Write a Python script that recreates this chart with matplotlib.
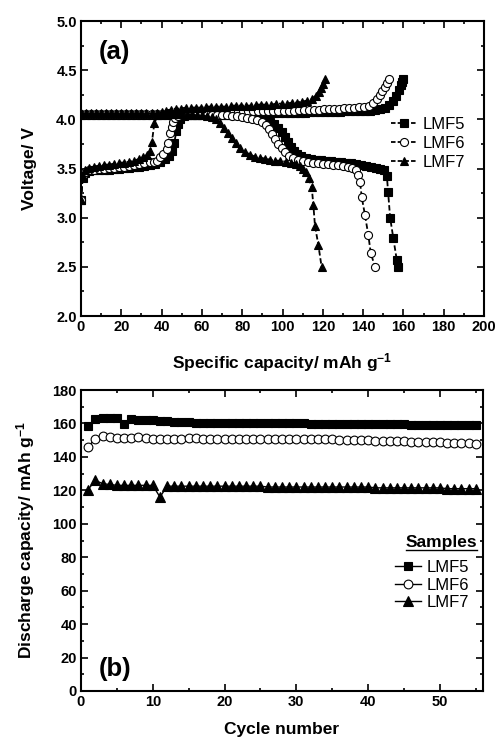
import matplotlib
matplotlib.use('Agg')
import matplotlib.pyplot as plt
from matplotlib.lines import Line2D
from matplotlib.ticker import MultipleLocator
from matplotlib import font_manager

# ---- (a) charge / discharge profiles ----
lmf5_chg_cap = [0, 0.8, 2, 4, 6.5, 9, 11.5, 14, 16.5, 19, 21.5, 24, 26.5, 29, 31.5, 34, 36.5, 39, 41.5, 43.5,
                45, 46.3, 47.3, 48, 49, 51, 53.5, 56, 58.5, 61, 63.5, 66, 68.5, 71, 73.5, 76, 78.5, 81, 83.5,
                86, 88.5, 91, 93.5, 96, 98.5, 101, 103.5, 106, 108.5, 111, 113.5, 116, 118.5, 121, 123.5, 126,
                128.5, 131, 133.5, 136, 138.5, 141, 143.5, 146, 148.5, 151, 153, 155, 156.5, 157.8, 158.8,
                159.5, 160]
lmf5_chg_v = [3.18, 3.40, 3.45, 3.47, 3.48, 3.48, 3.49, 3.49, 3.50, 3.50, 3.51, 3.51, 3.52, 3.52, 3.53, 3.54,
              3.55, 3.57, 3.60, 3.63, 3.68, 3.76, 3.88, 3.95, 4.00, 4.03, 4.04, 4.04, 4.05, 4.05, 4.05, 4.05,
              4.05, 4.05, 4.05, 4.05, 4.05, 4.06, 4.06, 4.06, 4.06, 4.06, 4.06, 4.06, 4.06, 4.06, 4.06, 4.06,
              4.06, 4.06, 4.07, 4.07, 4.07, 4.07, 4.07, 4.07, 4.07, 4.08, 4.08, 4.08, 4.08, 4.09, 4.09, 4.10,
              4.11, 4.12, 4.15, 4.19, 4.24, 4.30, 4.35, 4.38, 4.41]

lmf6_chg_cap = [0, 0.8, 2, 4, 6.5, 9, 11.5, 14, 16.5, 19, 21.5, 24, 26.5, 29, 31.5, 34, 36, 37.5, 39.2, 40.9,
                42.5, 43.3, 44.2, 45, 45.8, 46.8, 48, 50.5, 53, 55.5, 58, 60.5, 63, 65.5, 68, 70.5, 73, 75.5,
                78, 80.5, 83, 85.5, 88, 90.5, 93, 95.5, 98, 100.5, 103, 105.5, 108, 110.5, 113, 115.5, 118,
                120.5, 123, 125.5, 128, 130.5, 133, 135.5, 138, 140.5, 143, 145, 146.7, 148.2, 149.6, 150.9,
                152, 153]
lmf6_chg_v = [3.18, 3.41, 3.46, 3.48, 3.49, 3.50, 3.50, 3.51, 3.51, 3.52, 3.52, 3.53, 3.54, 3.55, 3.56, 3.57,
              3.57, 3.58, 3.62, 3.65, 3.70, 3.76, 3.86, 3.92, 3.97, 4.01, 4.03, 4.05, 4.06, 4.06, 4.06, 4.07,
              4.07, 4.07, 4.07, 4.07, 4.08, 4.08, 4.08, 4.08, 4.08, 4.08, 4.08, 4.09, 4.09, 4.09, 4.09, 4.09,
              4.09, 4.09, 4.10, 4.10, 4.10, 4.10, 4.10, 4.11, 4.11, 4.11, 4.11, 4.12, 4.12, 4.12, 4.13, 4.13,
              4.14, 4.17, 4.21, 4.25, 4.29, 4.33, 4.37, 4.41]

lmf7_chg_cap = [0, 0.8, 2, 4, 6.5, 9, 11.5, 14, 16.5, 19, 21.5, 24, 26.5, 29, 31, 33, 34.3, 35.2, 36.4, 38, 40,
                42, 44.5, 47, 49.5, 52, 54.5, 57, 59.5, 62, 64.5, 67, 69.5, 72, 74.5, 77, 79.5, 82, 84.5, 87,
                89.5, 92, 94.5, 97, 99.5, 102, 104.5, 107, 109.5, 112, 114.5, 116.5, 118, 119.2, 120.2, 121]
lmf7_chg_v = [3.18, 3.42, 3.48, 3.51, 3.52, 3.53, 3.54, 3.54, 3.55, 3.56, 3.56, 3.57, 3.58, 3.60, 3.62, 3.64,
              3.68, 3.77, 3.96, 4.04, 4.07, 4.09, 4.10, 4.11, 4.11, 4.12, 4.12, 4.12, 4.12, 4.13, 4.13, 4.13,
              4.13, 4.13, 4.14, 4.14, 4.14, 4.14, 4.14, 4.15, 4.15, 4.15, 4.15, 4.16, 4.16, 4.16, 4.17, 4.17,
              4.18, 4.19, 4.21, 4.24, 4.28, 4.32, 4.36, 4.41]

lmf5_dis_cap = [0, 2.5, 5, 7.5, 10, 12.5, 15, 17.5, 20, 22.5, 25, 27.5, 30, 32.5, 35, 37.5, 40, 42.5, 45, 47.5,
                50, 52.5, 55, 57.5, 60, 62.5, 65, 67.5, 70, 72.5, 75, 77.5, 80, 82.5, 85, 87.5, 90, 92, 94, 96,
                98, 99.5, 101, 102.5, 104, 105.5, 107, 109, 111.5, 114, 116.5, 119, 121.5, 124, 126.5, 129,
                131.5, 134, 136.5, 139, 141.5, 144, 146.5, 148.5, 150.5, 151.8, 152.4, 153.4, 155, 156.7, 157.5]
lmf5_dis_v = [4.04, 4.04, 4.04, 4.04, 4.04, 4.04, 4.04, 4.04, 4.04, 4.04, 4.04, 4.04, 4.04, 4.04, 4.04, 4.04,
              4.04, 4.04, 4.04, 4.04, 4.04, 4.04, 4.04, 4.04, 4.04, 4.04, 4.04, 4.04, 4.04, 4.04, 4.04, 4.04,
              4.04, 4.04, 4.03, 4.02, 4.01, 3.99, 3.97, 3.95, 3.91, 3.87, 3.82, 3.77, 3.72, 3.68, 3.65, 3.63,
              3.61, 3.60, 3.59, 3.59, 3.58, 3.58, 3.57, 3.57, 3.56, 3.56, 3.55, 3.54, 3.53, 3.52, 3.51, 3.50,
              3.48, 3.42, 3.26, 3.00, 2.79, 2.57, 2.50]

lmf6_dis_cap = [0, 2.5, 5, 7.5, 10, 12.5, 15, 17.5, 20, 22.5, 25, 27.5, 30, 32.5, 35, 37.5, 40, 42.5, 45, 47.5,
                50, 52.5, 55, 57.5, 60, 62.5, 65, 67.5, 70, 72.5, 75, 77.5, 80, 82.5, 85, 87.5, 90, 92, 93.5,
                95, 96.5, 98, 99.5, 101, 103, 105, 107.5, 110, 112.5, 115, 117.5, 120, 122.5, 125, 127.5, 130,
                132.5, 134.5, 136.5, 137.5, 138.5, 139.3, 140.9, 142.6, 143.8, 145.9]
lmf6_dis_v = [4.05, 4.05, 4.05, 4.05, 4.05, 4.05, 4.05, 4.05, 4.05, 4.05, 4.05, 4.05, 4.05, 4.05, 4.05, 4.05,
              4.05, 4.05, 4.05, 4.05, 4.05, 4.05, 4.05, 4.05, 4.05, 4.04, 4.04, 4.04, 4.04, 4.04, 4.03, 4.03,
              4.02, 4.01, 4.00, 3.99, 3.97, 3.94, 3.90, 3.85, 3.80, 3.75, 3.71, 3.67, 3.63, 3.61, 3.59, 3.58,
              3.57, 3.56, 3.56, 3.55, 3.55, 3.54, 3.54, 3.53, 3.52, 3.51, 3.48, 3.43, 3.36, 3.21, 3.03, 2.82,
              2.64, 2.50]

lmf7_dis_cap = [0, 2.5, 5, 7.5, 10, 12.5, 15, 17.5, 20, 22.5, 25, 27.5, 30, 32.5, 35, 37.5, 40, 42.5, 45, 47.5,
                50, 52.5, 55, 57.5, 60, 62.5, 65, 67, 69, 71, 73, 75, 77, 79, 81.5, 84, 86.5, 89, 91.5, 94,
                96.5, 99, 101.5, 104, 106.5, 108.5, 110, 111.5, 113, 114.5, 115.3, 116.1, 117.8, 119.4]
lmf7_dis_v = [4.06, 4.06, 4.06, 4.06, 4.06, 4.06, 4.06, 4.06, 4.06, 4.06, 4.06, 4.06, 4.06, 4.06, 4.06, 4.06,
              4.05, 4.05, 4.05, 4.05, 4.05, 4.05, 4.05, 4.04, 4.04, 4.03, 4.02, 4.00, 3.96, 3.91, 3.86, 3.81,
              3.76, 3.71, 3.67, 3.64, 3.62, 3.61, 3.60, 3.59, 3.58, 3.58, 3.57, 3.56, 3.55, 3.53, 3.50, 3.46,
              3.40, 3.31, 3.13, 2.92, 2.72, 2.50]

# ---- (b) cycling ----
cycles = list(range(1, 56))
lmf5_cyc = [158.5, 162.5, 163.5, 163.5, 163, 159.5, 162.5, 162, 162, 162, 161.5, 161.5, 161, 161, 161, 160.5,
            160.5, 160.5, 160.5, 160, 160, 160, 160, 160, 160, 160, 160, 160, 160, 160, 160, 159.5, 159.5,
            159.5, 159.5, 159.5, 159.5, 159.5, 159.5, 159.5, 159.5, 159.5, 159.5, 159.5, 159.5, 159, 159, 159,
            159, 159, 159, 159, 159, 159, 159]
lmf6_cyc = [146, 151, 152.5, 152, 151.5, 151.5, 151.5, 152, 151.5, 151, 151, 151, 151, 151, 151.5, 151.5, 151,
            151, 151, 151, 151, 151, 150.5, 150.5, 150.5, 150.5, 150.5, 150.5, 150.5, 150.5, 150.5, 151, 150.5,
            150.5, 150.5, 150, 150, 150, 150, 150, 149.5, 149.5, 149.5, 149.5, 149.5, 149, 149, 149, 149, 149,
            148.5, 148.5, 148.5, 148.5, 148]
lmf7_cyc = [120.5, 126, 124, 123.5, 123, 123, 123, 123, 123, 123, 116, 122.5, 122.5, 122.5, 122.5, 122.5, 122.5,
            122.5, 122.5, 122.5, 122.5, 122.5, 122.5, 122.5, 122.5, 122, 122, 122, 122, 122, 122, 122, 122, 122,
            122, 122, 122, 122, 122, 122, 121.5, 121.5, 121.5, 121.5, 121.5, 121.5, 121.5, 121.5, 121.5, 121.5,
            121, 121, 121, 121, 121]

labels = ['LMF5', 'LMF6', 'LMF7']
markers = ['s', 'o', '^']
facecols = ['black', 'white', 'black']

# pick a sans family that really has a bold face installed
fam = 'Liberation Sans'
for f in ['Liberation Sans', 'Roboto', 'Open Sans', 'Noto Sans', 'DejaVu Sans']:
    p = font_manager.findfont(font_manager.FontProperties(family=f, weight='bold'), fallback_to_default=False)
    if 'bold' in p.lower():
        fam = f
        break

plt.rcParams['font.family'] = [fam, 'DejaVu Sans']
plt.rcParams['mathtext.fontset'] = 'custom'
plt.rcParams['mathtext.rm'] = fam + ':bold'
plt.rcParams['mathtext.it'] = fam + ':bold'
plt.rcParams['mathtext.bf'] = fam + ':bold'

fig = plt.figure(figsize=(4.99, 7.38), dpi=100)
ax1 = fig.add_axes([0.1623, 0.5718, 0.8077, 0.3997])
ax2 = fig.add_axes([0.1623, 0.0637, 0.8057, 0.4078])

charge = [(lmf5_chg_cap, lmf5_chg_v), (lmf6_chg_cap, lmf6_chg_v), (lmf7_chg_cap, lmf7_chg_v)]
discharge = [(lmf5_dis_cap, lmf5_dis_v), (lmf6_dis_cap, lmf6_dis_v), (lmf7_dis_cap, lmf7_dis_v)]
msz = [5.6, 5.8, 6.4]
for i in range(3):
    for cap, v in (charge[i], discharge[i]):
        ax1.plot(cap, v, ls='--', dashes=(3, 1.5), color='black', lw=1.3, marker=markers[i],
                 ms=msz[i], mfc=facecols[i], mec='black', mew=0.8)

handles = [Line2D([], [], ls='--', dashes=(2.5, 1.2), color='black', lw=1.3, marker=markers[i], ms=msz[i],
                  mfc=facecols[i], mec='black', mew=0.8) for i in range(3)]
ax1.legend(handles, labels, loc='center left', bbox_to_anchor=(0.77, 0.585), frameon=False,
           prop={'size': 12}, handlelength=1.5, handletextpad=0.4,
           labelspacing=0.25, borderpad=0, borderaxespad=0)

ax1.set_xlim(0, 200)
ax1.set_ylim(2.0, 5.0)
ax1.xaxis.set_major_locator(MultipleLocator(20))
ax1.xaxis.set_minor_locator(MultipleLocator(10))
ax1.yaxis.set_major_locator(MultipleLocator(0.5))
ax1.yaxis.set_minor_locator(MultipleLocator(0.25))
ax1.yaxis.set_major_formatter(plt.FormatStrFormatter('%.1f'))
ax1.set_xlabel('Specific capacity/ mAh g$^{-1}$', fontsize=12.5, fontweight='bold', labelpad=12)
ax1.set_ylabel('Voltage/ V', fontsize=12.5, fontweight='bold', labelpad=14)
ax1.text(0.045, 0.895, '(a)', transform=ax1.transAxes, fontsize=18.5, fontweight='bold', va='center', ha='left')

# (b)
cyc_data = [lmf5_cyc, lmf6_cyc, lmf7_cyc]
msz2 = [6.3, 6.3, 7.0]
for i in range(3):
    ax2.plot(cycles, cyc_data[i], ls='-', color='black', lw=1.0, marker=markers[i], ms=msz2[i],
             mfc=facecols[i], mec='black', mew=0.8, label=labels[i])

ax2.legend(loc='upper left', bbox_to_anchor=(0.78, 0.435), frameon=False,
           prop={'size': 12}, handlelength=1.6, handletextpad=0.3, labelspacing=0.15,
           borderpad=0, borderaxespad=0)
t = ax2.text(0.897, 0.495, 'Samples', transform=ax2.transAxes, fontsize=12.5, fontweight='bold',
             ha='center', va='center')

ax2.set_xlim(0, 56)
ax2.set_ylim(0, 180)
ax2.xaxis.set_major_locator(MultipleLocator(10))
ax2.xaxis.set_minor_locator(MultipleLocator(5))
ax2.yaxis.set_major_locator(MultipleLocator(20))
ax2.yaxis.set_minor_locator(MultipleLocator(10))
ax2.set_xlabel('Cycle number', fontsize=12.5, fontweight='bold', labelpad=9)
ax2.set_ylabel('Discharge capacity/ mAh g$^{-1}$', fontsize=12.5, fontweight='bold', labelpad=11)
ax2.text(0.045, 0.073, '(b)', transform=ax2.transAxes, fontsize=18.5, fontweight='bold', va='center', ha='left')

for ax in (ax1, ax2):
    for s in ax.spines.values():
        s.set_linewidth(1.5)
    ax.tick_params(which='both', direction='in', top=True, right=True, labelsize=10.5, width=1.2, pad=3)
    ax.tick_params(which='major', length=5)
    ax.tick_params(which='minor', length=2.5)
    for lab in ax.get_xticklabels() + ax.get_yticklabels():
        lab.set_fontweight('bold')

# underline "Samples"
fig.canvas.draw()
bb = t.get_window_extent().transformed(fig.transFigure.inverted())
fig.add_artist(Line2D([bb.x0, bb.x1], [bb.y0 - 0.001, bb.y0 - 0.001], transform=fig.transFigure,
                      color='black', lw=1.0))

fig.savefig('out.png', dpi=100)
